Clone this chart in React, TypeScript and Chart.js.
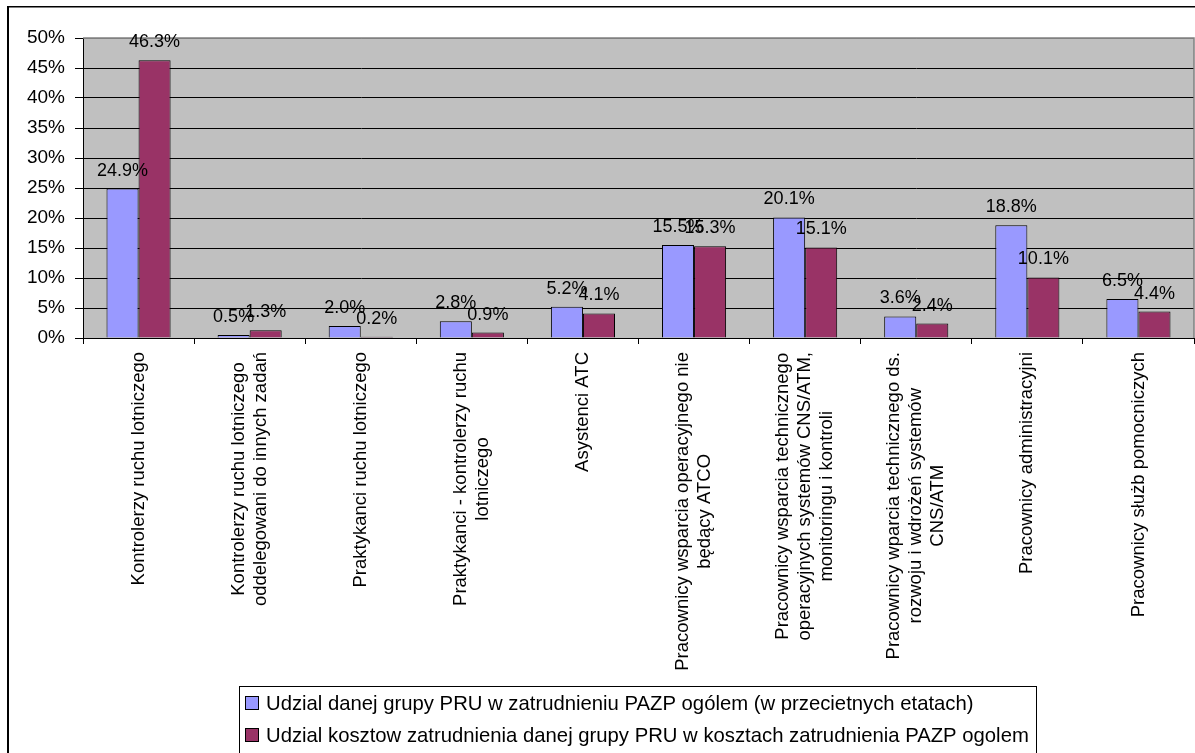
import React, { useEffect, useRef } from "react";
import { Chart, registerables } from "chart.js";

Chart.register(...registerables);

// Employee groups (wrapped lines of each category label)
const categories: string[][] = [
  ["Kontrolerzy ruchu lotniczego"],
  ["Kontrolerzy ruchu lotniczego", "oddelegowani do innych zadań"],
  ["Praktykanci ruchu lotniczego"],
  ["Praktykanci - kontrolerzy ruchu", "lotniczego"],
  ["Asystenci ATC"],
  ["Pracownicy wsparcia operacyjnego nie", "będący ATCO"],
  ["Pracownicy wsparcia technicznego", "operacyjnych systemów CNS/ATM,", "monitoringu i kontroli"],
  ["Pracownicy wparcia technicznego ds.", "rozwoju i wdrożeń systemów", "CNS/ATM"],
  ["Pracownicy administracyjni"],
  ["Pracownicy służb pomocniczych"],
];

const seriesNames: string[] = [
  "Udzial danej grupy PRU w zatrudnieniu PAZP ogólem (w przecietnych etatach)",
  "Udzial kosztow zatrudnienia danej grupy PRU w kosztach zatrudnienia PAZP ogolem",
];

// Share of headcount (%)
const headcountShare: number[] = [24.9, 0.5, 2.0, 2.8, 5.2, 15.5, 20.1, 3.6, 18.8, 6.5];
// Share of employment costs (%)
const costShare: number[] = [46.3, 1.3, 0.2, 0.9, 4.1, 15.3, 15.1, 2.4, 10.1, 4.4];

const seriesColors: string[] = ["#9999FF", "#993366"];

const FONT = '"Liberation Sans", Arial, sans-serif';

const frameAndLabels = {
  id: "frameAndLabels",
  beforeDraw(chart: any) {
    const { ctx, width, height, chartArea } = chart;
    ctx.save();
    ctx.fillStyle = "#ffffff";
    ctx.fillRect(0, 0, width, height);
    // grey plot area
    ctx.fillStyle = "#C0C0C0";
    ctx.fillRect(chartArea.left, chartArea.top, chartArea.right - chartArea.left, chartArea.bottom - chartArea.top);
    // outer chart border
    ctx.fillStyle = "#000000";
    ctx.fillRect(7, 6, 2, height);
    ctx.fillRect(7, 6, width, 1.5);
    ctx.restore();
  },
  beforeDatasetsDraw(chart: any) {
    const { ctx, chartArea } = chart;
    ctx.save();
    ctx.strokeStyle = "#808080";
    ctx.lineWidth = 1.5;
    ctx.beginPath();
    ctx.moveTo(chartArea.left, chartArea.top);
    ctx.lineTo(chartArea.right, chartArea.top);
    ctx.lineTo(chartArea.right, chartArea.bottom);
    ctx.stroke();
    ctx.restore();
  },
  afterDraw(chart: any) {
    const { ctx } = chart;
    const xScale = chart.scales.x;

    // value labels above each bar
    ctx.save();
    ctx.fillStyle = "#000000";
    ctx.font = `18px ${FONT}`;
    ctx.textAlign = "center";
    ctx.textBaseline = "middle";
    chart.data.datasets.forEach((ds: any, di: number) => {
      const meta = chart.getDatasetMeta(di);
      meta.data.forEach((bar: any, i: number) => {
        const v = ds.data[i] as number;
        ctx.fillText(v.toFixed(1) + "%", bar.x, bar.y - 18);
      });
    });
    ctx.restore();

    // rotated category labels, lines centred on each other
    ctx.save();
    ctx.fillStyle = "#000000";
    ctx.font = `18.5px ${FONT}`;
    ctx.textBaseline = "middle";
    ctx.textAlign = "center";
    const lineH = 22;
    categories.forEach((lines, i) => {
      const x = xScale.getPixelForTick(i);
      const widths = lines.map((l) => ctx.measureText(l).width);
      const w = Math.max(...widths);
      ctx.save();
      ctx.translate(x, xScale.top + 14);
      ctx.rotate(-Math.PI / 2);
      lines.forEach((l, k) => {
        const off = (k - (lines.length - 1) / 2) * lineH;
        ctx.fillText(l, -w / 2, off);
      });
      ctx.restore();
    });
    ctx.restore();

    // legend box
    ctx.save();
    const lx = 239;
    const ly = 686;
    ctx.strokeStyle = "#000000";
    ctx.lineWidth = 1;
    ctx.strokeRect(lx + 0.5, ly + 0.5, 797, 200);
    ctx.font = `20.3px ${FONT}`;
    ctx.textBaseline = "middle";
    ctx.textAlign = "left";
    chart.data.datasets.forEach((ds: any, di: number) => {
      const cy = ly + 17 + di * 32;
      ctx.fillStyle = ds.backgroundColor;
      ctx.fillRect(245.5, cy - 6.5, 13, 13);
      ctx.strokeStyle = "#000000";
      ctx.strokeRect(245.5, cy - 6.5, 13, 13);
      ctx.fillStyle = "#000000";
      ctx.fillText(ds.label, 266, cy + 1);
    });
    ctx.restore();
  },
};

export default function App() {
  const ref = useRef<HTMLCanvasElement | null>(null);

  useEffect(() => {
    if (!ref.current) return;
    const chart = new Chart(ref.current, {
      type: "bar",
      data: {
        labels: categories,
        datasets: [
          {
            label: seriesNames[0],
            data: headcountShare,
            backgroundColor: seriesColors[0],
            borderColor: "#000000",
            borderWidth: 1,
            categoryPercentage: 0.577,
            barPercentage: 1,
          },
          {
            label: seriesNames[1],
            data: costShare,
            backgroundColor: seriesColors[1],
            borderColor: "#000000",
            borderWidth: 1,
            categoryPercentage: 0.577,
            barPercentage: 1,
          },
        ],
      },
      options: {
        responsive: false,
        animation: false,
        devicePixelRatio: 1,
        layout: { padding: { left: 0, top: 38, right: 1, bottom: 0 } },
        plugins: {
          legend: { display: false },
          tooltip: { enabled: false },
        },
        scales: {
          x: {
            type: "category",
            offset: true,
            grid: {
              offset: true,
              drawOnChartArea: false,
              drawTicks: true,
              tickLength: 6,
              color: "#000000",
            },
            border: { display: true, color: "#000000", width: 1 },
            ticks: { display: false },
            afterFit: (scale: any) => {
              scale.height = 415;
            },
          },
          y: {
            min: 0,
            max: 50,
            ticks: {
              stepSize: 5,
              color: "#000000",
              padding: 10,
              font: { family: FONT, size: 19 },
              callback: (v: any) => `${v}%`,
            },
            grid: {
              color: (c: any) => (c.tick && c.tick.value === 50 ? "#808080" : "#000000"),
              lineWidth: 1,
              tickLength: 8,
              tickColor: "#000000",
            },
            border: { display: true, color: "#000000", width: 1 },
            afterFit: (scale: any) => {
              scale.width = 83;
            },
          },
        },
      },
      plugins: [frameAndLabels],
    });
    return () => chart.destroy();
  }, []);

  return (
    <div style={{ position: "fixed", left: 0, top: 0, width: 1195, height: 753, background: "#fff" }}>
      <canvas ref={ref} width={1195} height={753} style={{ display: "block" }} />
    </div>
  );
}
